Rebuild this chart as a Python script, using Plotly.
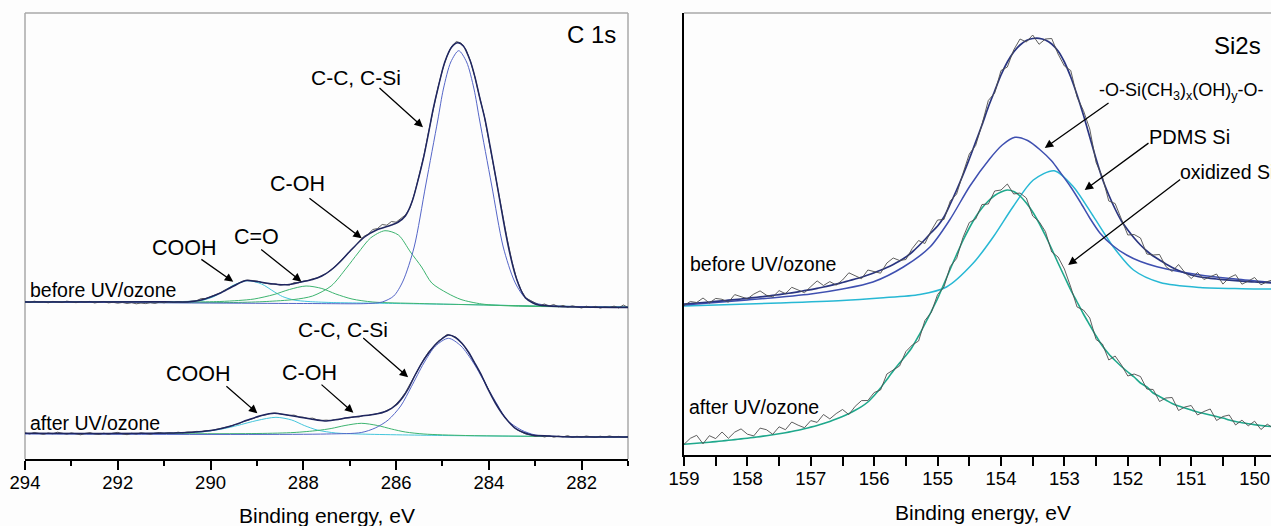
import plotly.graph_objects as go

# ---------------- C 1s panel (left) ----------------
# raw spectra, 0.1 eV steps from 294.0 eV down to 281.0 eV
C1S_START, C1S_STEP = 294.0, 0.1
c1s_before_raw = [
    157.5, 156.5, 157.8, 156.9, 157.3, 156.2, 157.6, 157.0, 156.4, 157.9,
    157.1, 156.3, 157.4, 156.8, 157.6, 156.0, 156.9, 157.5, 156.1, 156.7,
    155.8, 156.6, 155.5, 156.3, 155.2, 156.0, 155.4, 156.4, 155.6, 156.9,
    156.2, 157.3, 156.5, 157.4, 156.8, 157.6, 158.0, 158.3, 160.5, 160.5,
    162.5, 163.8, 166.0, 168.8, 171.0, 173.5, 175.8, 178.0, 179.0, 178.4,
    178.0, 176.5, 176.0, 174.8, 175.2, 173.8, 174.6, 173.9, 176.4, 176.2,
    177.9, 178.4, 180.2, 181.0, 183.5, 185.6, 189.5, 193.0, 198.0, 202.5,
    207.8, 212.0, 217.5, 222.5, 225.0, 229.5, 230.5, 234.5, 233.8, 237.5,
    236.8, 240.5, 244.0, 251.0, 266.0, 284.0, 303.5, 327.0, 350.5, 371.0,
    389.0, 403.0, 413.0, 417.5, 416.0, 410.0, 398.5, 382.0, 362.0, 343.5,
    318.5, 293.0, 268.0, 242.5, 219.0, 197.5, 180.0, 168.5, 161.0, 158.5,
    156.0, 153.5, 155.0, 153.0, 154.5, 152.2, 153.6, 151.8, 153.2, 152.0,
    151.0, 152.8, 151.4, 152.6, 150.9, 152.1, 151.5, 152.9, 151.0, 154.0,
    151.5]
c1s_after_raw = [
    26.2, 25.0, 26.5, 25.4, 24.6, 26.0, 25.2, 26.8, 25.5, 24.8,
    26.1, 25.3, 24.2, 25.6, 26.4, 25.0, 24.5, 25.8, 24.6, 25.9,
    26.6, 25.1, 24.3, 25.7, 24.9, 26.2, 25.4, 24.7, 25.8, 26.5,
    25.6, 26.3, 25.9, 26.8, 26.1, 27.0, 26.8, 27.6, 27.4, 28.5,
    28.3, 29.6, 30.2, 31.5, 32.4, 34.2, 35.0, 37.3, 38.6, 40.4,
    41.5, 43.4, 44.2, 45.6, 45.9, 45.2, 44.8, 43.6, 43.9, 42.2,
    41.8, 40.5, 40.9, 39.2, 38.6, 38.9, 38.4, 39.6, 39.8, 41.0,
    41.2, 42.4, 42.0, 43.5, 43.6, 44.8, 45.5, 46.2, 48.3, 50.8,
    55.0, 60.0, 66.5, 75.0, 83.5, 92.0, 100.0, 107.0, 112.5, 117.5,
    121.0, 124.5, 123.5, 121.5, 116.5, 111.0, 103.5, 95.5, 87.0, 78.0,
    68.5, 60.0, 52.0, 44.5, 38.5, 33.5, 29.5, 27.0, 24.8, 24.0,
    22.6, 23.5, 22.0, 23.2, 21.8, 22.9, 22.1, 23.4, 21.6, 22.7,
    21.9, 23.0, 22.2, 21.5, 22.8, 21.9, 23.1, 22.0, 22.6, 21.7,
    22.3]

# fitted curves (before UV/ozone)
c1s_b_env_E = [294, 291, 290.5, 290.2, 290.0, 289.8, 289.5, 289.24, 289.0, 288.77, 288.55, 288.3,
               288.05, 287.8, 287.6, 287.4, 287.2, 287.0, 286.68, 286.4, 286.1, 285.95, 285.8,
               285.65, 285.52, 285.4, 285.3, 285.2, 285.09, 284.95, 284.8, 284.67, 284.55, 284.4,
               284.3, 284.2, 284.08, 283.97, 283.86, 283.75, 283.65, 283.54, 283.43, 283.3, 283.21,
               283.05, 282.92, 282.5, 281]
c1s_b_env_I = [157, 157.2, 157, 159, 162, 165.7, 173, 178.5, 177.5, 175.7, 174.5, 174.5,
               177, 179.5, 183, 189, 197.5, 207.5, 222, 229.5, 234, 237, 243,
               258, 280, 303, 326, 350, 372, 397, 412, 416.3, 413, 398,
               382, 362, 339, 312, 284, 255, 229, 204, 184, 168, 161,
               156, 154, 152.5, 151.5]
c1s_b_cc_E = [294, 288, 286.6, 286.3, 286.05, 285.85, 285.61, 285.36, 285.1, 284.98, 284.82, 284.65,
              284.48, 284.32, 284.2, 283.94, 283.69, 283.45, 283.25, 283.0, 282.7, 281]
c1s_b_cc_I = [157, 155.5, 155.5, 157, 163, 178, 212, 274, 339, 370, 397, 408.3,
              397, 370, 339, 274, 212, 178, 163, 156, 153.5, 152]
c1s_b_coh_E = [294, 289.5, 288.8, 288.2, 287.8, 287.4, 287.07, 286.82, 286.55, 286.24, 285.95,
               285.69, 285.45, 285.23, 284.9, 284.6, 284.15, 283.5, 281]
c1s_b_coh_I = [157, 156.5, 157.5, 159.5, 163, 173, 191, 206, 221, 228.3, 224,
               207, 192, 176, 166, 159.5, 155, 153, 152]
c1s_b_co_E = [294, 290.5, 289.8, 289.4, 289.06, 288.63, 288.3, 287.94, 287.6, 287.3, 286.95,
              286.5, 285.5, 283, 281]
c1s_b_co_I = [157, 157, 157.5, 158.5, 160, 164.5, 169.5, 173, 170.5, 165, 160,
              157, 155.5, 153, 152]
c1s_b_cooh_E = [294, 291, 290.6, 290.2, 289.95, 289.71, 289.5, 289.2, 288.9, 288.63, 288.45,
                288.2, 287.9, 287.4, 286, 284, 283, 281]
c1s_b_cooh_I = [157, 157.2, 157.5, 158.5, 162, 168, 174, 178.3, 175, 167.3, 162.5,
                159, 157.5, 156.5, 155.5, 154, 153, 152]

# fitted curves (after UV/ozone)
c1s_a_env_E = [294, 290.5, 289.92, 289.56, 289.2, 288.9, 288.63, 288.35, 288.12, 287.84, 287.54,
               287.3, 287.04, 286.75, 286.46, 286.2, 286.0, 285.85, 285.74, 285.6, 285.45, 285.3,
               285.16, 285.0, 284.87, 284.72, 284.58, 284.44, 284.3, 284.15, 284.01, 283.86,
               283.72, 283.57, 283.43, 283.25, 283.07, 282.7, 282.4, 281]
c1s_a_env_I = [25.7, 26.5, 29, 33, 39, 43.5, 45.7, 44, 42.3, 40, 38,
               39.3, 41.3, 43, 44.7, 48, 54, 62, 70, 83, 95.7, 106,
               114, 120.5, 124, 121.5, 115.7, 107, 95.7, 83, 69, 56,
               45.7, 37, 30.7, 26.5, 24, 23, 22.3, 22]
c1s_a_cc_E = [294, 287.5, 286.75, 286.45, 286.17, 285.9, 285.67, 285.4, 285.15, 284.87, 284.6,
              284.33, 284.04, 283.8, 283.61, 283.3, 283.0, 282.5, 281]
c1s_a_cc_I = [25, 25, 26.5, 31, 39, 53, 72.3, 96, 113, 120.7, 113,
              96, 72.3, 53, 39, 29, 24, 22.5, 22]
c1s_a_coh_E = [294, 289, 288.2, 287.7, 287.4, 287.1, 286.75, 286.4, 286.1, 285.8, 285.4, 284.5, 281]
c1s_a_coh_I = [25.5, 25.5, 26.5, 28.5, 30.5, 33.5, 35.7, 33.5, 30, 27, 25, 23.5, 22]
c1s_a_cooh_E = [294, 290.6, 290.1, 289.7, 289.42, 289.0, 288.59, 288.25, 287.98, 287.7, 287.3,
                286.8, 285, 281]
c1s_a_cooh_I = [25.5, 26, 27.5, 30.5, 33.5, 38.5, 41.7, 39, 33.5, 29, 26, 25, 23.5, 22]

# ---------------- Si 2s panel (right) ----------------
# 0.1 eV steps from 159.0 eV down to 149.7 eV
SI_START, SI_STEP = 159.0, 0.1
si_before_raw = [
    149.5, 153.5, 152.5, 157, 152, 156.6, 155.7, 152.8, 160.4, 158.5,
    156.2, 160.9, 164.1, 159.8, 158.1, 164.4, 161.3, 167.7, 165.2, 162.3,
    168.4, 174.1, 169.5, 173.4, 169.9, 175, 182.2, 179, 176.3, 185,
    183.3, 181.8, 192, 197, 194.5, 195.5, 206.5, 214.5, 211.5, 224.5,
    235, 235.5, 254, 261, 281.5, 301, 309.5, 330.5, 354.5, 362,
    384.5, 388, 405, 416, 413, 420, 410.7, 416, 416.5, 401,
    389, 384.5, 358, 344.5, 326, 292.5, 278, 254, 251.5, 235,
    220, 220.5, 217, 201, 200, 200.5, 188.5, 183.5, 190.5, 182.5,
    176.5, 182.5, 175.5, 178.2, 181, 170.9, 177.3, 180.3, 170.8, 173.9,
    177.5, 170.2, 173.4, 175.5]
si_before_env = [
    151, 151.5, 152, 152.5, 153, 153.6, 154.2, 154.8, 155.4, 156,
    156.7, 157.4, 158.1, 158.8, 159.6, 160.4, 161.3, 162.2, 163.2, 164.3,
    165.4, 166.6, 168, 169.4, 170.9, 172.5, 174.2, 176, 177.8, 180,
    182.3, 184.8, 187.5, 190.5, 194, 198, 203, 209, 215.5, 222.5,
    229, 238, 251, 265, 280, 296, 313, 330, 348, 364,
    380, 393, 403, 410, 414.5, 416.5, 416.7, 415, 411, 404,
    393, 378, 360, 340, 318, 296, 276, 260, 246, 234,
    225, 217, 210, 204, 199, 195, 191, 187.5, 184.5, 182,
    180, 178.5, 177.5, 176.7, 176, 175.4, 174.8, 174.3, 173.8, 173.4,
    173, 172.7, 172.4, 172]
si_after_raw = [
    10.7, 16.7, 19.7, 11.2, 19.3, 16.4, 23.0, 16.7, 22.9, 26.1,
    20.8, 19.1, 26.9, 25.3, 20.7, 28.2, 25.3, 33.0, 29.8, 27.3,
    34.4, 32.6, 40.5, 36.1, 41.4, 45.5, 40.4, 48.7, 54.4, 54.5,
    62.5, 65.0, 81.0, 85.0, 89.0, 103.5, 110.0, 114.0, 134.5, 142.5,
    160.5, 168.0, 188.5, 196.5, 217.5, 232.5, 236.0, 250.5, 251.0, 264.0,
    265.0, 271.0, 261.0, 262.0, 257.0, 239.0, 233.5, 223.5, 203.0, 198.0,
    186.0, 168.0, 148.0, 145.0, 137.0, 115.5, 111.0, 95.0, 99.0, 90.0,
    79.0, 81.0, 78.5, 66.0, 65.5, 53.5, 57.0, 57.5, 44.5, 48.0,
    49.5, 40.0, 43.5, 46.0, 34.5, 38.5, 40.0, 30.0, 34.8, 29.2,
    33.8, 25.5, 30.8, 26.7]
si_after_fit = [
    10.7, 11.2, 11.7, 12.2, 12.8, 13.4, 14.0, 14.7, 15.4, 16.1,
    16.8, 17.6, 18.4, 19.3, 20.2, 21.2, 22.3, 23.5, 24.8, 26.3,
    27.9, 29.6, 31.5, 33.6, 35.9, 38.5, 41.4, 44.7, 48.4, 53.0,
    59.5, 67.0, 75.5, 84.0, 92.0, 99.5, 108.0, 119.0, 131.0, 143.5,
    156.5, 171.0, 186.0, 200.5, 214.5, 227.0, 238.0, 247.0, 254.0, 259.5,
    263.0, 265.0, 263.5, 259.0, 252.0, 243.0, 232.0, 219.5, 206.0, 192.0,
    178.5, 165.0, 153.0, 141.0, 130.0, 119.0, 109.0, 101.0, 94.5, 88.5,
    83.0, 78.0, 72.0, 68.0, 62.0, 58.5, 55.0, 51.5, 49.0, 47.0,
    45.0, 43.0, 41.5, 40.0, 38.5, 37.0, 35.0, 33.5, 32.3, 31.2,
    30.3, 29.5, 28.8, 28.2]
si_b_siox_E = [159.0, 158.0, 157.0, 156.5, 156.02, 155.54, 155.12, 154.81, 154.49, 154.18, 153.98,
               153.78, 153.58, 153.38, 153.2, 153.07, 152.9, 152.75, 152.6, 152.44, 152.25, 152.02,
               151.8, 151.54, 150.86, 150.3, 149.7]
si_b_siox_I = [150, 155, 161, 166, 173, 188, 208, 235, 269, 296, 310,
               317.7, 314.5, 305, 294, 283, 268, 253, 237, 222, 210, 200,
               193.5, 188.3, 180, 176, 172.5]
si_b_pdms_E = [159.0, 157.5, 156.5, 155.91, 155.28, 154.86, 154.44, 154.12, 153.81, 153.49, 153.16,
               152.86, 152.54, 152.23, 151.91, 151.49, 150.86, 150.2, 149.7]
si_b_pdms_I = [149, 152, 154.5, 157, 160.5, 168, 191.7, 218.3, 248.3, 275, 284.3,
               268.3, 238.3, 208.3, 185, 172.5, 167.5, 166.3, 166]

c1s_E = [round(C1S_START - C1S_STEP * i, 2) for i in range(len(c1s_before_raw))]
si_E = [round(SI_START - SI_STEP * i, 2) for i in range(len(si_before_raw))]

W, H = 1271, 526
FONT = "Liberation Sans, Arial, Helvetica, sans-serif"

fig = go.Figure()


def add_line(x, y, color, width, xa, ya, spline=True):
    fig.add_trace(go.Scatter(
        x=x, y=y, mode="lines", xaxis=xa, yaxis=ya, showlegend=False, hoverinfo="skip",
        line=dict(color=color, width=width, shape="spline" if spline else "linear", smoothing=0.8)))


# C 1s components, envelopes, raw data
BL, GR, CY, NV, RAW = "#5566c8", "#3db470", "#45c6dc", "#1f2660", "#4d4d4d"
for e, i, c in [(c1s_b_cooh_E, c1s_b_cooh_I, CY), (c1s_b_co_E, c1s_b_co_I, GR),
                (c1s_b_coh_E, c1s_b_coh_I, GR), (c1s_b_cc_E, c1s_b_cc_I, BL),
                (c1s_a_cooh_E, c1s_a_cooh_I, CY), (c1s_a_coh_E, c1s_a_coh_I, GR),
                (c1s_a_cc_E, c1s_a_cc_I, BL)]:
    add_line(e, i, c, 1.0, "x", "y")
add_line(c1s_E, c1s_before_raw, RAW, 0.9, "x", "y", spline=False)
add_line(c1s_E, c1s_after_raw, RAW, 0.9, "x", "y", spline=False)
add_line(c1s_b_env_E, c1s_b_env_I, NV, 1.5, "x", "y")
add_line(c1s_a_env_E, c1s_a_env_I, NV, 1.5, "x", "y")

# Si 2s
add_line(si_b_pdms_E, si_b_pdms_I, "#27b8d4", 1.5, "x2", "y2")
add_line(si_b_siox_E, si_b_siox_I, "#3e4fb0", 1.5, "x2", "y2")
add_line(si_E, si_before_env, "#2a3580", 1.7, "x2", "y2")
add_line(si_E, si_after_fit, "#1fa88c", 1.6, "x2", "y2")
add_line(si_E, si_before_raw, RAW, 0.9, "x2", "y2", spline=False)
add_line(si_E, si_after_raw, RAW, 0.9, "x2", "y2", spline=False)

L0, L1 = 25 / W, 628 / W
R0 = 684 / W
YL0, YR0, YTOP = (H - 459) / H, (H - 455) / H, (H - 13) / H

axis_common = dict(showgrid=False, zeroline=False, ticks="outside", ticklen=9, tickwidth=1.5,
                   tickcolor="black", showline=True, linecolor="black", linewidth=1.5,
                   automargin=False, ticklabelstandoff=-3,
                   tickfont=dict(size=18.5, family=FONT, color="black"))
fig.update_layout(
    width=W, height=H, margin=dict(l=0, r=0, t=0, b=0, pad=0, autoexpand=False),
    paper_bgcolor="#fdfdfd", plot_bgcolor="#fdfdfd", showlegend=False,
    font=dict(family=FONT, color="black"),
    xaxis=dict(domain=[L0, L1], range=[294, 281], anchor="y", dtick=2, tick0=0,
               minor=dict(dtick=1, ticklen=5, tickwidth=1.5, tickcolor="black", ticks="outside"),
               **axis_common),
    yaxis=dict(domain=[YL0, YTOP], range=[0, 446], showline=False, showticklabels=False,
               ticks="", showgrid=False, zeroline=False, automargin=False),
    xaxis2=dict(domain=[R0, 1], range=[159, 159 - (W - 684) / 63.4], anchor="y2", dtick=1, tick0=0,
                minor=dict(dtick=0.5, ticklen=9, tickwidth=1.5, tickcolor="black", ticks="outside"),
                **axis_common),
    yaxis2=dict(domain=[YR0, YTOP], range=[0, 442], anchor="x2", showline=True, linecolor="black",
                linewidth=1.5, showticklabels=False, ticks="", showgrid=False, zeroline=False,
                automargin=False),
)

GRAY = "#a8a8a8"
fig.add_shape(type="line", xref="paper", yref="paper", x0=L0, x1=L1, y0=YTOP, y1=YTOP,
              line=dict(color=GRAY, width=1.5), layer="below")
fig.add_shape(type="line", xref="paper", yref="paper", x0=L0, x1=L0, y0=YL0, y1=YTOP,
              line=dict(color=GRAY, width=1.5), layer="below")
fig.add_shape(type="line", xref="paper", yref="paper", x0=L1, x1=L1, y0=YL0, y1=YTOP,
              line=dict(color=GRAY, width=1.5), layer="below")
fig.add_shape(type="line", xref="paper", yref="paper", x0=R0, x1=1, y0=YTOP, y1=YTOP,
              line=dict(color=GRAY, width=1.5), layer="below")


def label(text, x, y, xa, ya, size, xanchor="center"):
    fig.add_annotation(text=text, x=x, y=y, xref=xa, yref=ya, showarrow=False, xanchor=xanchor,
                       yanchor="middle", font=dict(size=size, family=FONT, color="black"))


def arrow(x_head, y_head, x_tail, y_tail, xa, ya):
    fig.add_annotation(text="", x=x_head, y=y_head, ax=x_tail, ay=y_tail, xref=xa, yref=ya,
                       axref=xa, ayref=ya, showarrow=True, arrowhead=2, arrowsize=1.3,
                       arrowwidth=1.3, arrowcolor="black", standoff=0, startstandoff=0)


# left panel text
label("C 1s", 281.22, 425, "x", "y", 24, "right")
label("C-C, C-Si", 286.87, 382, "x", "y", 21)
arrow(285.42, 331.7, 286.39, 372.3, "x", "y")
label("C-OH", 288.12, 275.5, "x", "y", 21.5)
arrow(286.74, 220.7, 287.9, 262, "x", "y")
label("C=O", 289.0, 221.7, "x", "y", 21.5)
arrow(288.04, 177.3, 288.94, 210.7, "x", "y")
label("COOH", 290.57, 210.7, "x", "y", 21.5)
arrow(289.51, 177.3, 290.23, 200.7, "x", "y")
label("before UV/ozone", 293.94, 169, "x", "y", 19.5, "left")

label("C-C, C-Si", 287.14, 129.7, "x", "y", 21)
arrow(285.74, 81.7, 286.74, 122.3, "x", "y")
label("C-OH", 287.86, 85.7, "x", "y", 21.5)
arrow(286.92, 46.3, 287.64, 75.7, "x", "y")
label("COOH", 290.26, 85, "x", "y", 21.5)
arrow(288.99, 45.7, 289.69, 74, "x", "y")
label("after UV/ozone", 293.94, 36.3, "x", "y", 19.5, "left")

# right panel text
label("Si2s", 149.87, 410, "x2", "y2", 24, "right")
label("-O-Si(CH<sub>3</sub>)<sub>x</sub>(OH)<sub>y</sub>-O-", 152.49, 363.3, "x2", "y2", 18, "left")
arrow(153.31, 307, 152.28, 353, "x2", "y2")
label("PDMS Si", 151.02, 318.3, "x2", "y2", 20)
arrow(152.68, 265, 151.65, 313, "x2", "y2")
label("oxidized Si", 151.21, 283.3, "x2", "y2", 19.5, "left")
arrow(152.94, 190, 151.15, 276.7, "x2", "y2")
label("before UV/ozone", 158.94, 190.7, "x2", "y2", 19.5, "left")
label("after UV/ozone", 158.95, 47.7, "x2", "y2", 19.5, "left")

# axis titles
fig.add_annotation(text="Binding energy, eV", x=326.5 / W, y=(H - 515) / H, xref="paper",
                   yref="paper", showarrow=False, xanchor="center", yanchor="middle",
                   font=dict(size=21, family=FONT, color="black"))
fig.add_annotation(text="Binding energy, eV", x=983 / W, y=(H - 512) / H, xref="paper",
                   yref="paper", showarrow=False, xanchor="center", yanchor="middle",
                   font=dict(size=21, family=FONT, color="black"))

fig.write_html("out.html", config={"displayModeBar": False},
               post_script="document.body.style.margin='0px';")
